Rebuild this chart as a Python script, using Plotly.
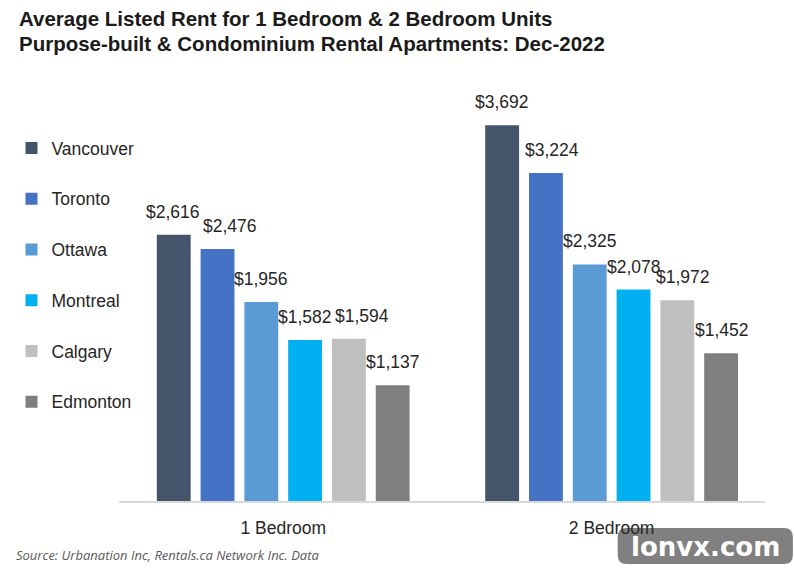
import plotly.graph_objects as go

categories = ["1 Bedroom", "2 Bedroom"]
cities = ["Vancouver", "Toronto", "Ottawa", "Montreal", "Calgary", "Edmonton"]
rent_1br = [2616, 2476, 1956, 1582, 1594, 1137]
rent_2br = [3692, 3224, 2325, 2078, 1972, 1452]
colors = ["#44546A", "#4472C4", "#5B9BD5", "#00B0F0", "#BFBFBF", "#7F7F7F"]
label_dx_1br = [0, 13, 0, 0, 13, 0]
label_dx_2br = [0, 6, 0, 0, 5, 0]

W, H = 794, 570
ML, MR, MT, MB = 116, 29, 94, 69
PW, PH = W - ML - MR, H - MT - MB

def px(x):
    return (x - ML) / PW

def py(y):
    return (H - MB - y) / PH

FONT = "Liberation Sans, Arial, sans-serif"

fig = go.Figure()
for i, city in enumerate(cities):
    fig.add_trace(go.Bar(
        name=city, x=categories, y=[rent_1br[i], rent_2br[i]],
        marker=dict(color=colors[i], line=dict(width=0)),
        legendgroup=city, hoverinfo="skip",
    ))

x_range = [-0.5, 1.467]
unit_px = PW / (x_range[1] - x_range[0])
bargap = 0.2
slot = unit_px * (1 - bargap) / len(cities)

annotations = []
for i in range(len(cities)):
    for cat, vals, dxs in ((categories[0], rent_1br, label_dx_1br), (categories[1], rent_2br, label_dx_2br)):
        annotations.append(dict(
            x=cat, y=vals[i], xref="x", yref="y",
            text=f"${vals[i]:,}", showarrow=False,
            xshift=(i - (len(cities) - 1) / 2) * slot + dxs[i], yshift=11,
            yanchor="bottom", xanchor="center",
            font=dict(family=FONT, size=17.5, color="#262626"),
        ))

TFONT = "Liberation Sans, Arial, sans-serif"
annotations.append(dict(
    x=px(14), y=py(18), xref="paper", yref="paper", xanchor="left", yanchor="middle",
    text="<b>Average Listed Rent for 1 Bedroom &amp; 2 Bedroom Units</b>", showarrow=False,
    font=dict(family=TFONT, size=20.5, color="#1a1a1a"),
))
annotations.append(dict(
    x=px(14), y=py(44), xref="paper", yref="paper", xanchor="left", yanchor="middle",
    text="<b>Purpose-built &amp; Condominium Rental Apartments: Dec-2022</b>", showarrow=False,
    font=dict(family=TFONT, size=20.5, color="#1a1a1a"),
))
annotations.append(dict(
    x=px(11), y=py(555), xref="paper", yref="paper", xanchor="left", yanchor="middle",
    text="<i>Source: Urbanation Inc, Rentals.ca Network Inc. Data</i>", showarrow=False,
    font=dict(family="Open Sans, sans-serif", size=13, color="#595959"),
))
annotations.append(dict(
    x=px(705), y=py(547), xref="paper", yref="paper", xanchor="center", yanchor="middle",
    text="<b>lonvx.com</b>", showarrow=False,
    font=dict(family="DejaVu Sans, sans-serif", size=26, color="#ffffff"),
))

# watermark box (rounded), drawn below axis labels
x0, x1, y0, y1, r = 617, 793, 528, 564, 9
pts = [
    f"M{px(x0 + r)},{py(y0)}", f"L{px(x1 - r)},{py(y0)}",
    f"Q{px(x1)},{py(y0)} {px(x1)},{py(y0 + r)}", f"L{px(x1)},{py(y1 - r)}",
    f"Q{px(x1)},{py(y1)} {px(x1 - r)},{py(y1)}", f"L{px(x0 + r)},{py(y1)}",
    f"Q{px(x0)},{py(y1)} {px(x0)},{py(y1 - r)}", f"L{px(x0)},{py(y0 + r)}",
    f"Q{px(x0)},{py(y0)} {px(x0 + r)},{py(y0)}", "Z",
]
shapes = [dict(type="path", path=" ".join(pts), xref="paper", yref="paper",
               fillcolor="#808080", line=dict(width=0), layer="below")]

fig.update_layout(
    width=W, height=H,
    margin=dict(l=ML, r=MR, t=MT, b=MB),
    paper_bgcolor="white", plot_bgcolor="rgba(0,0,0,0)",
    barmode="group", bargap=bargap, bargroupgap=0.227,
    showlegend=True,
    legend=dict(
        x=px(8), y=py(130), xanchor="left", yanchor="top",
        font=dict(family=FONT, size=17.5, color="#262626"),
        tracegroupgap=25, traceorder="grouped", bgcolor="rgba(0,0,0,0)",
    ),
    xaxis=dict(
        range=x_range, showline=True, linecolor="#D9D9D9", linewidth=1.5,
        showgrid=False, zeroline=False, ticks="", ticklabelstandoff=10,
        tickfont=dict(family=FONT, size=17.5, color="#262626"),
        fixedrange=True,
    ),
    yaxis=dict(range=[0, 4000], visible=False, fixedrange=True),
    shapes=shapes,
    annotations=annotations,
)

fig.write_html("out.html")
